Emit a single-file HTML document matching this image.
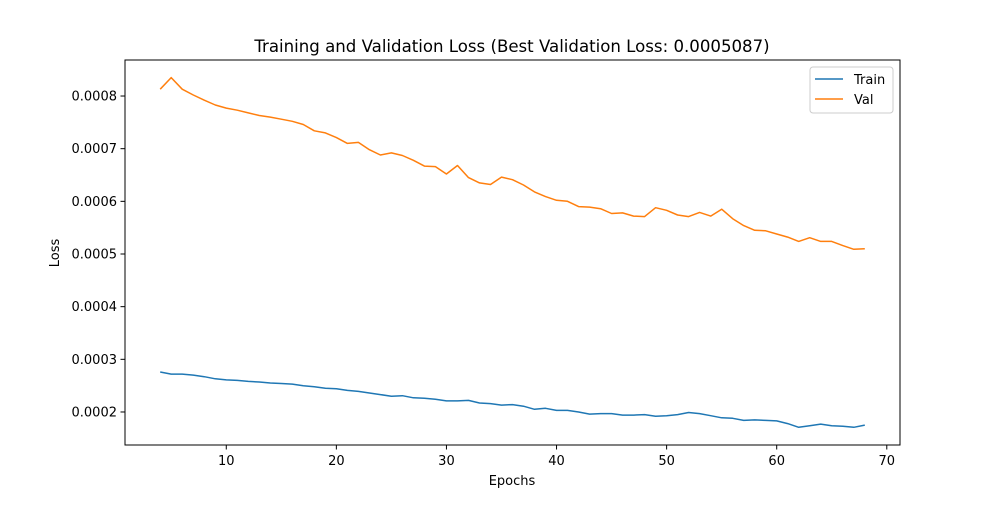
<!DOCTYPE html>
<html><head><meta charset="utf-8"><style>
body{margin:0;background:#fff;}
svg text{font-family:"DejaVu Sans","Liberation Sans",sans-serif;fill:#000;}
</style></head><body>
<svg id="chart" width="1000" height="500" xmlns="http://www.w3.org/2000/svg">
<rect width="1000" height="500" fill="#fff"/>
<text x="512" y="52" font-size="16.6" text-anchor="middle">Training and Validation Loss (Best Validation Loss: 0.0005087)</text>
<g id="axes"></g>
<g id="series"></g>
<rect x="125" y="60" width="775" height="385" fill="none" stroke="#000" stroke-width="1"/>
<text x="512" y="485" font-size="13" text-anchor="middle">Epochs</text>
<text x="59" y="253" font-size="13" text-anchor="middle" transform="rotate(-90 59 253)">Loss</text>
<g>
<rect x="810" y="67" width="83" height="46" rx="3" fill="#fff" stroke="#ccc"/>
<g><line x1="815" y1="79" x2="843" y2="79" stroke="#1f77b4" stroke-width="1.5"/><text x="854" y="84" font-size="13">Train</text></g>
<g><line x1="815" y1="99" x2="843" y2="99" stroke="#ff7f0e" stroke-width="1.5"/><text x="854" y="104" font-size="13">Val</text></g>
</g>
</svg>
<script>
const epochs=[];for(let e=4;e<=68;e++)epochs.push(e);
const trainLoss=[0.000276,0.000272,0.000272,0.00027,0.000267,0.000263,0.000261,0.00026,0.000258,0.000257,0.000255,0.000254,0.000253,0.00025,0.000248,0.000245,0.000244,0.000241,0.000239,0.000236,0.000233,0.00023,0.000231,0.000227,0.000226,0.000224,0.000221,0.000221,0.000222,0.000217,0.000216,0.000213,0.000214,0.000211,0.000205,0.000207,0.000203,0.000203,0.0002,0.000196,0.000197,0.000197,0.000194,0.000194,0.000195,0.000192,0.000193,0.000195,0.000199,0.000197,0.000193,0.000189,0.000188,0.000184,0.000185,0.000184,0.000183,0.000178,0.000171,0.000174,0.000177,0.000174,0.000173,0.000171,0.000175];
const valLoss=[0.000813,0.000835,0.000813,0.000802,0.000792,0.000783,0.000777,0.000773,0.000768,0.000763,0.00076,0.000756,0.000752,0.000746,0.000734,0.00073,0.000721,0.00071,0.000712,0.000698,0.000688,0.000692,0.000687,0.000678,0.000667,0.000666,0.000652,0.000668,0.000645,0.000635,0.000632,0.000646,0.000641,0.000631,0.000618,0.000609,0.000602,0.0006,0.00059,0.000589,0.000586,0.000577,0.000578,0.000572,0.000571,0.000588,0.000583,0.000574,0.000571,0.000579,0.000572,0.000585,0.000567,0.000554,0.000545,0.000544,0.000538,0.000532,0.000524,0.000531,0.000524,0.000524,0.000516,0.000509,0.00051];
const xTicks=[10,20,30,40,50,60,70];
const yTicks=[0.0002,0.0003,0.0004,0.0005,0.0006,0.0007,0.0008];
const yTickLabels=["0.0002","0.0003","0.0004","0.0005","0.0006","0.0007","0.0008"];
const NS="http://www.w3.org/2000/svg";
const X0=125,X1=900,Y0=445,Y1=60;
const xMin=0.8,xMax=71.2,yMin=0.0001373,yMax=0.0008684;
const xs=v=>X0+(v-xMin)/(xMax-xMin)*(X1-X0);
const ys=v=>Y0-(v-yMin)/(yMax-yMin)*(Y0-Y1);
const axes=document.getElementById('axes'),series=document.getElementById('series');
function mk(t,a){const e=document.createElementNS(NS,t);for(const k in a)e.setAttribute(k,a[k]);return e;}
xTicks.forEach(t=>{const g=mk('g',{});


const x=xs(t);g.appendChild(mk('line',{x1:x,y1:445,x2:x,y2:449.5,stroke:'#000'}));
const tx=mk('text',{x:x,y:465,'font-size':13,'text-anchor':'middle'});tx.textContent=t;g.appendChild(tx);axes.appendChild(g);});
yTicks.forEach((t,i)=>{const g=mk('g',{});


const y=ys(t);g.appendChild(mk('line',{x1:120.5,y1:y,x2:125,y2:y,stroke:'#000'}));
const tx=mk('text',{x:117,y:y+4.5,'font-size':13,'text-anchor':'end'});tx.textContent=yTickLabels[i];g.appendChild(tx);axes.appendChild(g);});
function line(vals,color,name){const p=mk('polyline',{points:vals.map((v,i)=>xs(epochs[i]).toFixed(1)+','+ys(v).toFixed(1)).join(' '),fill:'none',stroke:color,'stroke-width':1.5,'stroke-linejoin':'round'});


series.appendChild(p);}
line(trainLoss,'#1f77b4','train-loss-line');
line(valLoss,'#ff7f0e','val-loss-line');
</script>
</body></html>
